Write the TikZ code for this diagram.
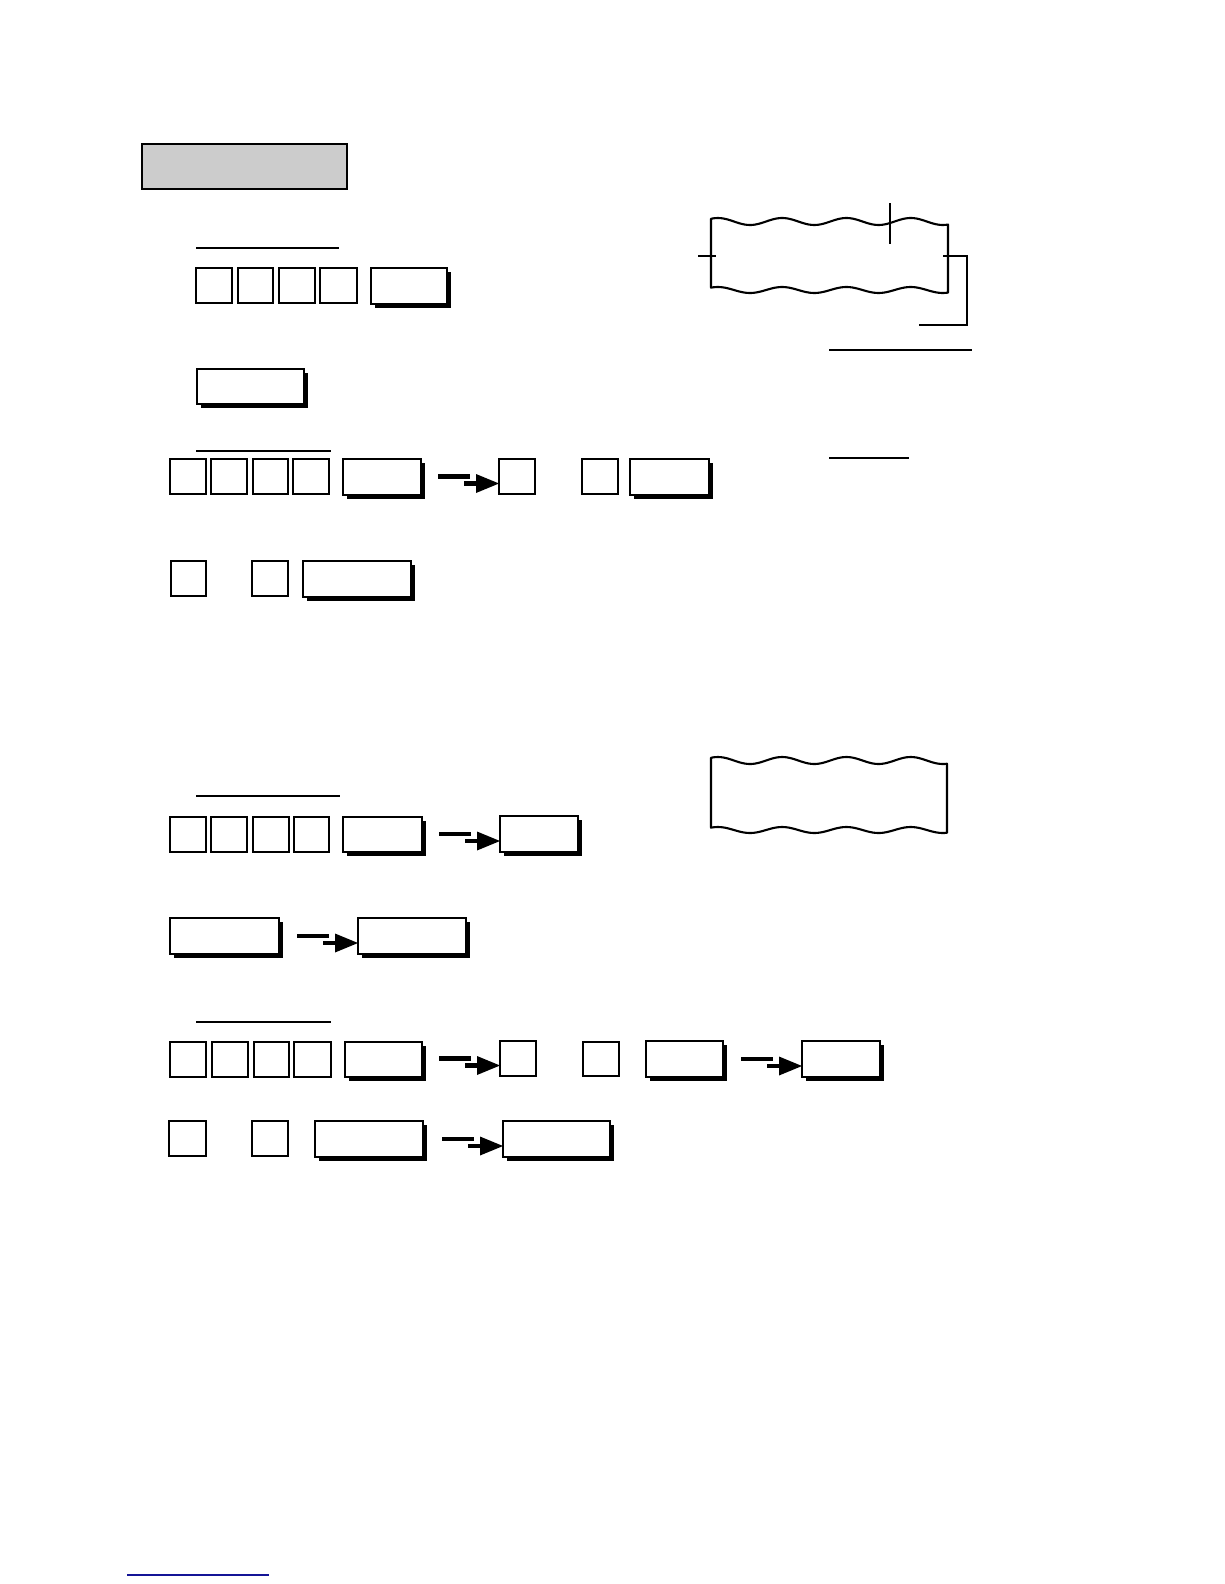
\documentclass[tikz,border=0pt]{standalone}
\usetikzlibrary{calc,shadows}
\tikzset{
  sqkey/.style={draw, line width=2.4pt, fill=white, inner sep=0pt, outer sep=0pt},
  widekey/.style={draw, line width=2.4pt, fill=white, inner sep=0pt, outer sep=0pt,
    drop shadow={shadow xshift=4pt, shadow yshift=-4pt, fill=black, opacity=1}},
  titlebox/.style={draw, line width=2.8pt, fill=gray!40, inner sep=0pt, outer sep=0pt},
  rule/.style={line width=1.4pt},
  hair/.style={line width=1.1pt},
  paper/.style={line width=2.1pt, line join=round},
  kbar/.style={line width=4.2pt},
}
% key node by its corners: style, name, x1, y1, x2, y2
\newcommand\K[6]{\node[#1, minimum width={#5-#3}, minimum height={#6-#4}] (#2) at ({(#3+#5)/2},{(#4+#6)/2}) {};}
% stepped arrow pointing at the west side of a key
\newcommand\KA[1]{%
  \draw[kbar] ($(#1.west)+(-61,0)$) -- ++(32,0);
  \draw[kbar] ($(#1.west)+(-35,7)$) -- ++(14,0);
  \fill ($(#1.west)+(-23,-2.5)$) -- ($(#1.west)+(0,7)$) -- ($(#1.west)+(-23,16.5)$) -- cycle;}
\begin{document}
\begin{tikzpicture}[x=1pt,y=-1pt]
\useasboundingbox (0,0) rectangle (1224,1584);

% ---------- section 1 ----------
\K{titlebox}{title}{142}{144}{347}{189}

\draw[rule] (196,248) -- (339,248);
\K{sqkey}{a1}{196}{268}{232}{303}
\K{sqkey}{a2}{238}{268}{273}{303}
\K{sqkey}{a3}{279}{268}{315}{303}
\K{sqkey}{a4}{320}{268}{357}{303}
\K{widekey}{a5}{371}{268}{447}{304}

\K{widekey}{b1}{197}{369}{304}{404}

\draw[rule] (196,451) -- (331,451);
\K{sqkey}{c1}{170}{459}{206}{494}
\K{sqkey}{c2}{211}{459}{247}{494}
\K{sqkey}{c3}{253}{459}{288}{494}
\K{sqkey}{c4}{293}{459}{329}{494}
\K{widekey}{c5}{343}{459}{421}{495}
\K{sqkey}{c6}{499}{459}{535}{494}
\K{sqkey}{c7}{582}{459}{618}{494}
\K{widekey}{c8}{630}{459}{709}{495}
\KA{c6}

\K{sqkey}{e1}{171}{561}{206}{596}
\K{sqkey}{e2}{252}{561}{288}{596}
\K{widekey}{e3}{303}{561}{411}{597}

% receipt 1
\draw[paper] plot[domain=711:948,samples=100,smooth] (\x,{221.5+3.5*cos(5.6*(\x-750))})
  -- plot[domain=948:711,samples=100,smooth] (\x,{290+3*cos(5.6*(\x-750))}) -- cycle;
\draw[hair] (698,256) -- (716,256);
\draw[hair] (890,203) -- (890,244);
\draw[hair] (943,256) -- (967,256) -- (967,325) -- (919,325);
\draw[hair] (829,350) -- (972,350);
\draw[hair] (829,458) -- (909,458);

% ---------- section 2 ----------
\draw[rule] (196,796) -- (340,796);
\K{sqkey}{f1}{170}{817}{206}{852}
\K{sqkey}{f2}{211}{817}{247}{852}
\K{sqkey}{f3}{253}{817}{289}{852}
\K{sqkey}{f4}{294}{817}{329}{852}
\K{widekey}{f5}{343}{817}{422}{852}
\K{widekey}{f6}{500}{816}{578}{852}
\KA{f6}

\K{widekey}{g1}{170}{918}{279}{954}
\K{widekey}{g2}{358}{918}{466}{954}
\KA{g2}

\draw[rule] (196,1022) -- (331,1022);
\K{sqkey}{h1}{170}{1042}{206}{1077}
\K{sqkey}{h2}{212}{1042}{248}{1077}
\K{sqkey}{h3}{254}{1042}{289}{1077}
\K{sqkey}{h4}{294}{1042}{331}{1077}
\K{widekey}{h5}{345}{1042}{422}{1077}
\K{sqkey}{h6}{500}{1041}{536}{1076}
\K{sqkey}{h7}{583}{1042}{619}{1076}
\K{widekey}{h8}{646}{1041}{723}{1077}
\K{widekey}{h9}{802}{1041}{880}{1077}
\KA{h6}
\KA{h9}

\K{sqkey}{i1}{169}{1121}{206}{1156}
\K{sqkey}{i2}{252}{1121}{288}{1156}
\K{widekey}{i3}{315}{1121}{423}{1157}
\K{widekey}{i4}{503}{1121}{610}{1157}
\KA{i4}

% receipt 2
\draw[paper] plot[domain=711:947,samples=100,smooth] (\x,{760.5+3.5*cos(5.6*(\x-750))})
  -- plot[domain=947:711,samples=100,smooth] (\x,{830+3*cos(5.6*(\x-750))}) -- cycle;

% footer rule
\draw[line width=1.5pt, color={rgb,255:red,20;green,20;blue,150}] (127,1575) -- (269,1575);
\end{tikzpicture}
\end{document}
